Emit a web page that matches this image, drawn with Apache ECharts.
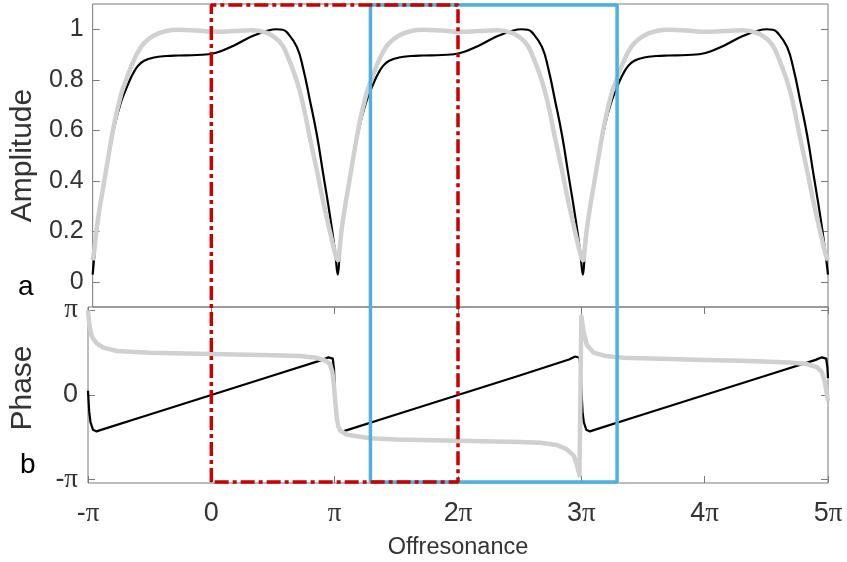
<!DOCTYPE html>
<html>
<head>
<meta charset="utf-8">
<script src="https://cdn.jsdelivr.net/npm/echarts@6/dist/echarts.min.js"></script>
<style>
  html, body { margin: 0; padding: 0; background: #fff; }
  #chart { width: 847px; height: 562px; }
</style>
</head>
<body>
<div id="chart"></div>
<script>
// all x values are offresonance in units of pi, phase values too

const ampX = [
  -1, -0.985, -0.97, -0.94, -0.915, -0.874, -0.82, -0.766, -0.73, -0.7, -0.67, -0.63, -0.58, -0.5, -0.4, -0.3,
  -0.15, 0, 0.15, 0.3, 0.42, 0.5, 0.55, 0.585, 0.666, 0.72, 0.77, 0.83, 0.88, 0.94, 0.98,
  1, 1.015, 1.03, 1.06, 1.085, 1.126, 1.18, 1.234, 1.27, 1.3, 1.33, 1.37, 1.42, 1.5, 1.6, 1.7,
  1.85, 2, 2.15, 2.3, 2.42, 2.5, 2.55, 2.585, 2.666, 2.72, 2.77, 2.83, 2.88, 2.94, 2.98,
  3, 3.015, 3.03, 3.06, 3.085, 3.126, 3.18, 3.234, 3.27, 3.3, 3.33, 3.37, 3.42, 3.5, 3.6, 3.7,
  3.85, 4, 4.15, 4.3, 4.42, 4.5, 4.55, 4.585, 4.666, 4.72, 4.77, 4.83, 4.88, 4.94, 4.98, 5
]

const ampBlack = [
  0.028, 0.11, 0.2, 0.3, 0.37, 0.48, 0.62, 0.715, 0.76, 0.795, 0.825, 0.855, 0.875, 0.888, 0.894, 0.896,
  0.898, 0.906, 0.935, 0.972, 0.993, 1.0, 0.998, 0.988, 0.93, 0.84, 0.725, 0.58, 0.43, 0.25, 0.11,
  0.028, 0.11, 0.2, 0.3, 0.37, 0.48, 0.62, 0.715, 0.76, 0.795, 0.825, 0.855, 0.875, 0.888, 0.894, 0.896,
  0.898, 0.906, 0.935, 0.972, 0.993, 1.0, 0.998, 0.988, 0.93, 0.84, 0.725, 0.58, 0.43, 0.25, 0.11,
  0.028, 0.11, 0.2, 0.3, 0.37, 0.48, 0.62, 0.715, 0.76, 0.795, 0.825, 0.855, 0.875, 0.888, 0.894, 0.896,
  0.898, 0.906, 0.935, 0.972, 0.993, 1.0, 0.998, 0.988, 0.93, 0.84, 0.725, 0.58, 0.43, 0.25, 0.11, 0.028
]

const ampGray = [
  0.085, 0.13, 0.2, 0.3, 0.37, 0.49, 0.635, 0.745, 0.795, 0.835, 0.87, 0.91, 0.945, 0.975, 0.993, 0.998,
  0.995, 0.99, 0.993, 0.996, 0.986, 0.962, 0.935, 0.9, 0.795, 0.695, 0.575, 0.44, 0.32, 0.19, 0.11,
  0.085, 0.13, 0.2, 0.3, 0.37, 0.49, 0.635, 0.745, 0.795, 0.835, 0.87, 0.91, 0.945, 0.975, 0.993, 0.998,
  0.995, 0.99, 0.993, 0.996, 0.986, 0.962, 0.935, 0.9, 0.795, 0.695, 0.575, 0.44, 0.32, 0.19, 0.11,
  0.085, 0.13, 0.2, 0.3, 0.37, 0.49, 0.635, 0.745, 0.795, 0.835, 0.87, 0.91, 0.945, 0.975, 0.993, 0.998,
  0.995, 0.99, 0.993, 0.996, 0.986, 0.962, 0.935, 0.9, 0.795, 0.695, 0.575, 0.44, 0.32, 0.19, 0.11, 0.085
]

const phaseBlack = [
  [-1.0, 0.05], [-0.99, -0.2], [-0.98, -0.32], [-0.96, -0.41], [-0.93, -0.43], [-0.9, -0.415],
  [-0.5, -0.23], [0, 0], [0.5, 0.23], [0.9, 0.415], [0.95, 0.445], [0.985, 0.43], [0.995, 0.3],
  [1.0, 0.08], [1.01, -0.2], [1.02, -0.32], [1.04, -0.41], [1.07, -0.43], [1.1, -0.415],
  [1.5, -0.23], [2, 0], [2.5, 0.23], [2.9, 0.42], [2.95, 0.455], [2.985, 0.44], [2.995, 0.3],
  [3.0, 0.08], [3.01, -0.2], [3.02, -0.32], [3.04, -0.41], [3.07, -0.43], [3.1, -0.415],
  [3.5, -0.23], [4, 0], [4.5, 0.23], [4.9, 0.415], [4.95, 0.445], [4.985, 0.43], [4.995, 0.33], [5.0, 0.2]
]

const phaseGray = [
  [-1.0, 1.0], [-0.99, 0.85], [-0.983, 0.78], [-0.97, 0.7], [-0.956, 0.66], [-0.929, 0.61],
  [-0.875, 0.56], [-0.766, 0.52], [-0.5, 0.5], [0, 0.485], [0.5, 0.47], [0.72, 0.46], [0.85, 0.44],
  [0.92, 0.41], [0.96, 0.37], [0.98, 0.28], [0.995, 0.1], [1.005, -0.08], [1.018, -0.28],
  [1.03, -0.37], [1.045, -0.42], [1.1, -0.47], [1.29, -0.51], [1.5, -0.525], [2.0, -0.54],
  [2.5, -0.555], [2.67, -0.565], [2.8, -0.59], [2.88, -0.64], [2.94, -0.72], [2.965, -0.83],
  [2.985, -0.95], [2.995, -0.97], [3.0, 0.93], [3.01, 0.83], [3.02, 0.74], [3.045, 0.59],
  [3.1, 0.5], [3.2, 0.46], [3.34, 0.44], [3.72, 0.425], [4.0, 0.415], [4.3, 0.405], [4.69, 0.385],
  [4.83, 0.366], [4.91, 0.33], [4.95, 0.27], [4.975, 0.15], [5.0, -0.07]
]

const xTicks = [-1, 0, 1, 2, 3, 4, 5]
const ampTicks = [0, 0.2, 0.4, 0.6, 0.8, 1]
const phaseTicks = [-1, 0, 1]

// the two 2pi windows drawn over both panels
const redWindow = [0, 2]
const blueWindow = [1.29, 3.29]

const FONT = "'Liberation Sans', Arial, sans-serif"
const AXIS_COLOR = '#7a7a7a'
const TEXT_COLOR = '#333'

function piText(v) {
  if (v === 0) return '0'
  if (v === 1) return '{p|π}'
  if (v === -1) return '-{p|π}'
  return v + '{p|π}'
}

const piRich = {
  p: { fontFamily: "'Liberation Serif', 'DejaVu Serif', serif", fontSize: 27, color: TEXT_COLOR }
}

function boxData(w) {
  return [[w[0], 0], [w[0], 1], [w[1], 1], [w[1], 0], [w[0], 0]]
}

const noLine = { show: false, onZero: false }
const tickStyle = (vals) => ({
  show: true, inside: true, length: 7, customValues: vals,
  lineStyle: { color: AXIS_COLOR, width: 1 }
})

let option = {
  animation: false,
  backgroundColor: '#fff',
  title: [
    { text: 'a', left: 18, top: 273, padding: 0,
      textStyle: { fontSize: 28, fontWeight: 'normal', color: '#000', fontFamily: FONT } },
    { text: 'b', left: 20, top: 451, padding: 0,
      textStyle: { fontSize: 28, fontWeight: 'normal', color: '#000', fontFamily: FONT } }
  ],
  grid: [
    { left: 88, right: 19, top: 4, height: 303, show: true, borderColor: AXIS_COLOR, borderWidth: 1 },
    { left: 88, right: 19, top: 307, bottom: 79, show: true, borderColor: AXIS_COLOR, borderWidth: 1 },
    { left: 88, right: 19, top: 5, bottom: 80 }
  ],
  xAxis: [
    { gridIndex: 0, type: 'value', min: -1, max: 5, interval: 1,
      axisLine: noLine, axisTick: { show: false }, axisLabel: { show: false }, splitLine: { show: false } },
    { gridIndex: 1, type: 'value', position: 'bottom', min: -1, max: 5, interval: 1,
      axisLine: noLine, axisTick: tickStyle(xTicks), splitLine: { show: false },
      axisLabel: { customValues: xTicks, formatter: piText, rich: piRich, margin: 17,
        fontSize: 27, color: TEXT_COLOR, fontFamily: FONT },
      name: 'Offresonance', nameLocation: 'middle', nameGap: 53,
      nameTextStyle: { fontSize: 23.5, color: TEXT_COLOR, fontFamily: FONT } },
    { gridIndex: 1, type: 'value', position: 'top', min: -1, max: 5, interval: 1,
      axisLine: noLine, axisTick: tickStyle(xTicks), axisLabel: { show: false }, splitLine: { show: false } },
    { gridIndex: 2, type: 'value', min: -1, max: 5, show: false }
  ],
  yAxis: [
    { gridIndex: 0, type: 'value', min: -0.1, max: 1.1,
      axisLine: noLine, axisTick: tickStyle(ampTicks), splitLine: { show: false },
      axisLabel: { customValues: ampTicks, formatter: (v) => String(+v.toFixed(1)), margin: 9,
        fontSize: 25, color: TEXT_COLOR, fontFamily: FONT },
      name: 'Amplitude', nameLocation: 'middle', nameGap: 50,
      nameTextStyle: { fontSize: 30, color: TEXT_COLOR, fontFamily: FONT } },
    { gridIndex: 0, type: 'value', position: 'right', min: -0.1, max: 1.1,
      axisLine: noLine, axisTick: tickStyle(ampTicks), axisLabel: { show: false }, splitLine: { show: false } },
    { gridIndex: 1, type: 'value', min: -1.04, max: 1.04,
      axisLine: noLine, axisTick: tickStyle(phaseTicks), splitLine: { show: false },
      axisLabel: { customValues: phaseTicks, formatter: piText, rich: piRich, margin: 10,
        fontSize: 27, color: TEXT_COLOR, fontFamily: FONT },
      name: 'Phase', nameLocation: 'middle', nameGap: 50,
      nameTextStyle: { fontSize: 30, color: TEXT_COLOR, fontFamily: FONT, padding: [0, 0, 0, 14] } },
    { gridIndex: 1, type: 'value', position: 'right', min: -1.04, max: 1.04,
      axisLine: noLine, axisTick: tickStyle(phaseTicks), axisLabel: { show: false }, splitLine: { show: false } },
    { gridIndex: 2, type: 'value', min: 0, max: 1, show: false }
  ],
  series: [
    {
      name: 'amp-black', type: 'line', xAxisIndex: 0, yAxisIndex: 0,
      data: ampX.map((x, i) => [x, ampBlack[i]]),
      showSymbol: false, smooth: 0.45, z: 2,
      lineStyle: { color: '#000', width: 2.2 }
    },
    {
      name: 'amp-gray', type: 'line', xAxisIndex: 0, yAxisIndex: 0,
      data: ampX.map((x, i) => [x, ampGray[i]]),
      showSymbol: false, smooth: 0.45, z: 3,
      lineStyle: { color: '#d0d0d0', width: 4.5 }
    },
    {
      name: 'phase-black', type: 'line', xAxisIndex: 1, yAxisIndex: 2,
      data: phaseBlack, showSymbol: false, z: 2,
      lineStyle: { color: '#000', width: 2.2, join: 'round' }
    },
    {
      name: 'phase-gray', type: 'line', xAxisIndex: 1, yAxisIndex: 2,
      data: phaseGray, showSymbol: false, z: 3,
      lineStyle: { color: '#d0d0d0', width: 4.5, join: 'round' }
    },
    {
      name: 'blue-window', type: 'line', xAxisIndex: 3, yAxisIndex: 4,
      data: boxData(blueWindow), showSymbol: false, clip: false, silent: true, z: 8,
      lineStyle: { color: '#4db2e0', width: 3.5 }
    },
    {
      name: 'red-window', type: 'line', xAxisIndex: 3, yAxisIndex: 4,
      data: boxData(redWindow), showSymbol: false, clip: false, silent: true, z: 9,
      lineStyle: { color: '#cc0000', width: 3.5, type: [14, 4, 4, 4] }
    }
  ]
}

const chart = echarts.init(document.getElementById('chart'))
chart.setOption(option)
</script>
</body>
</html>
